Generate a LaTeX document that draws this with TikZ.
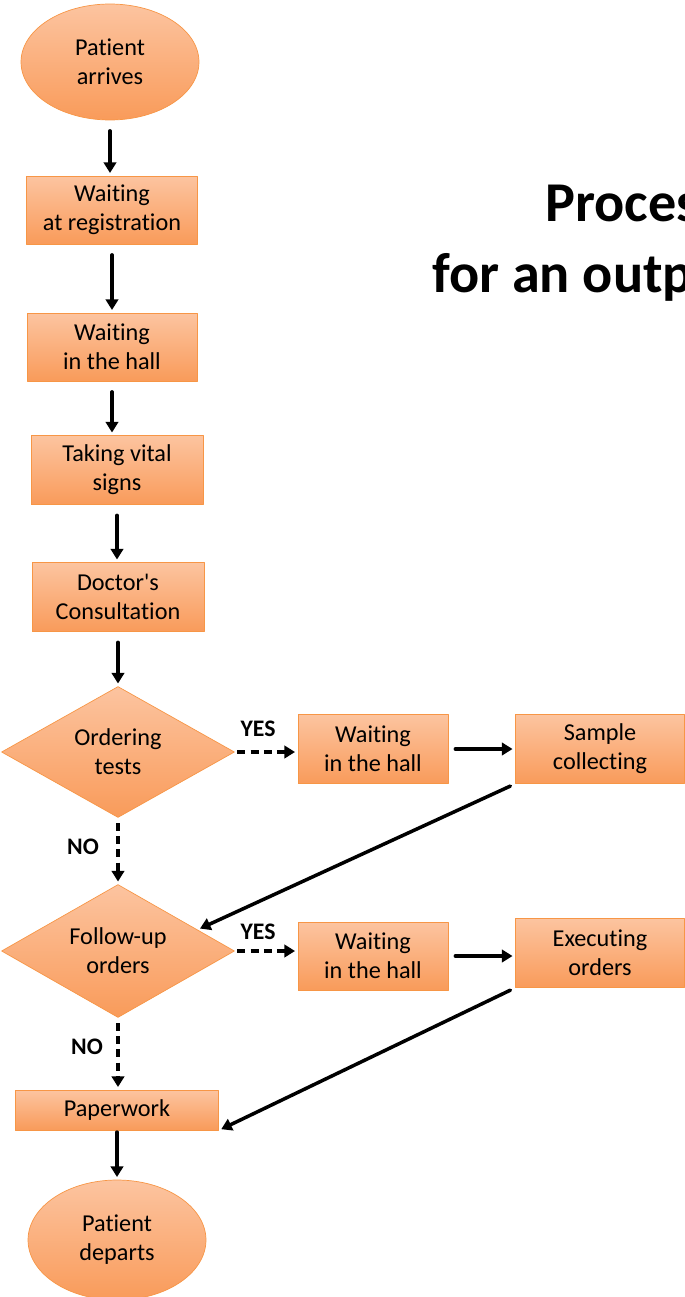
\documentclass[tikz,border=0pt]{standalone}
\usepackage{fontspec}
\setmainfont{Carlito}[Ligatures={NoCommon}]
\usetikzlibrary{arrows.meta,shapes.geometric}
\definecolor{ortop}{RGB}{252,196,160}
\definecolor{orbot}{RGB}{249,155,90}
\definecolor{orline}{RGB}{247,150,70}

\begin{document}
\begin{tikzpicture}[line cap=round,line join=round,>={Triangle[length=6pt,width=7pt]},x=0.02cm,y=-0.02cm,
stepbox/.style={draw=orline,top color=ortop,bottom color=orbot,rectangle,align=center,inner sep=0pt,font=\fontsize{13.8}{16.5}\selectfont},
terminal/.style={stepbox,ellipse},
decision/.style={stepbox,diamond,aspect=2},
flow/.style={->,line width=2pt,shorten <=6pt,shorten >=1.5pt},
maybe/.style={flow,dashed,line cap=butt,dash pattern=on 4.5pt off 3pt},
lbl/.style={font=\bfseries\fontsize{13.5}{16}\selectfont},
ttl/.style={font=\bfseries\fontsize{32}{40}\selectfont,anchor=base west,inner sep=0pt}]
\useasboundingbox (0,0) rectangle (685,1297);
\clip (0,0) rectangle (685,1297);
% title, cut at the right edge
\node[ttl] (ttl1) at (545,222) {Proces};
\node[ttl] (ttl2) at (432,293) {for an outp};
% main column
\node[terminal,minimum width=3.56cm,minimum height=2.32cm] (arrive) at (110,62) {Patient\\arrives};
\node[stepbox,minimum width=3.42cm,minimum height=1.36cm] (reg) at (112,210) {Waiting\\at registration};
\node[stepbox,minimum width=3.40cm,minimum height=1.36cm] (hall) at (112,347) {Waiting\\in the hall};
\node[stepbox,minimum width=3.44cm,minimum height=1.38cm] (vital) at (117,470) {Taking vital\\signs};
\node[stepbox,minimum width=3.44cm,minimum height=1.38cm] (doc) at (118,597) {Doctor\textquotesingle s\\Consultation};
\node[decision,minimum width=4.66cm,minimum height=2.62cm] (order) at (118,752) {Ordering\\tests};
\node[decision,minimum width=4.66cm,minimum height=2.66cm] (fu) at (118,951) {Follow-up\\orders};
\node[stepbox,minimum width=4.06cm,minimum height=0.80cm] (pw) at (117,1110) {Paperwork};
\node[terminal,minimum width=3.56cm,minimum height=2.40cm] (depart) at (117,1240) {Patient\\departs};
% side rows
\node[stepbox,minimum width=3.00cm,minimum height=1.38cm] (hallb) at (373,749) {Waiting\\in the hall};
\node[stepbox,minimum width=3.38cm,minimum height=1.38cm] (sample) at (600,749) {Sample\\collecting};
\node[stepbox,minimum width=3.00cm,minimum height=1.36cm] (hallc) at (373,956) {Waiting\\in the hall};
\node[stepbox,minimum width=3.38cm,minimum height=1.38cm] (exec) at (600,953) {Executing\\orders};
% labels
\node[lbl] (yes1) at (258,729) {YES};
\node[lbl] (no1) at (83,847) {NO};
\node[lbl] (yes2) at (258,932) {YES};
\node[lbl] (no2) at (87,1047) {NO};
% connectors
\draw[flow] (arrive.south) -- (arrive.south |- reg.north);
\draw[flow] (reg.south) -- (reg.south |- hall.north);
\draw[flow] (hall.south) -- (hall.south |- vital.north);
\draw[flow] (vital.south) -- (vital.south |- doc.north);
\draw[flow] (doc.south) -- (doc.south |- order.north);
\draw[maybe,shorten <=1.5pt] (order.east) -- (order.east -| hallb.west);
\draw[flow,shorten <=4pt] (hallb.east) -- (hallb.east -| sample.west);
\draw[flow,shorten <=3pt] (sample.south west) -- (fu.15);
\draw[maybe,shorten <=3pt] (order.south) -- (fu.north);
\draw[maybe,shorten <=1.5pt] (fu.east) -- (fu.east -| hallc.west);
\draw[flow,shorten <=4pt] (hallc.east) -- (hallc.east -| exec.west);
\draw[flow,shorten <=3pt] (exec.south west) -- (pw.south east);
\draw[maybe,shorten <=3pt] (fu.south) -- (fu.south |- pw.north);
\draw[flow,shorten <=1pt] (pw.south) -- (pw.south |- depart.north);
\end{tikzpicture}
\end{document}
